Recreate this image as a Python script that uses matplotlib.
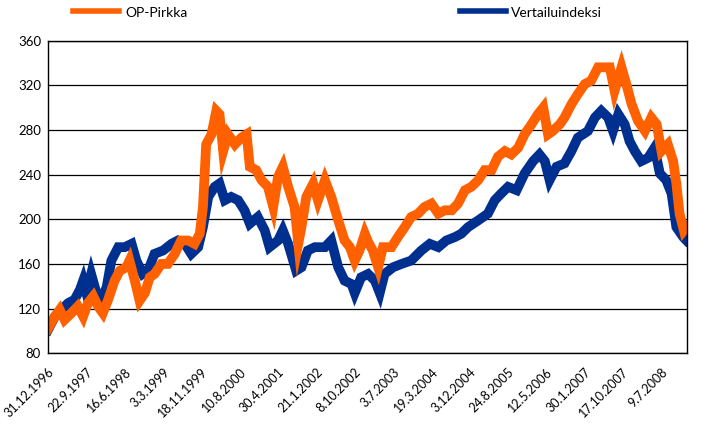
import matplotlib
matplotlib.use("Agg")
import matplotlib.pyplot as plt
import matplotlib.transforms as mtransforms
from matplotlib.lines import Line2D
import pandas as pd

# luetut arvot kuvasta (indeksi, 31.12.1996 = 100), aika desimaalivuosina
op_vuosi = [
    1997.00, 1997.13, 1997.22, 1997.31, 1997.44, 1997.56, 1997.66, 1997.75, 1997.85, 1997.94,
    1998.03, 1998.13, 1998.25, 1998.35, 1998.47, 1998.53, 1998.63, 1998.72, 1998.82, 1998.91,
    1999.00, 1999.13, 1999.25, 1999.38, 1999.50, 1999.63, 1999.75, 1999.85, 1999.91, 1999.97,
    2000.07, 2000.16, 2000.22, 2000.29, 2000.38, 2000.51, 2000.63, 2000.73, 2000.79, 2000.91,
    2001.01, 2001.13, 2001.23, 2001.32, 2001.41, 2001.51, 2001.63, 2001.70, 2001.76, 2001.85,
    2001.98, 2002.07, 2002.20, 2002.32, 2002.45, 2002.57, 2002.67, 2002.76, 2002.85, 2002.95,
    2003.01, 2003.10, 2003.20, 2003.29, 2003.45, 2003.57, 2003.70, 2003.82, 2003.95, 2004.07,
    2004.20, 2004.33, 2004.45, 2004.58, 2004.70, 2004.83, 2004.95, 2005.08, 2005.20, 2005.33,
    2005.45, 2005.58, 2005.70, 2005.83, 2005.95, 2006.08, 2006.20, 2006.30, 2006.39, 2006.48,
    2006.61, 2006.70, 2006.83, 2006.95, 2007.08, 2007.20, 2007.33, 2007.46, 2007.55, 2007.64,
    2007.77, 2007.86, 2007.96, 2008.08, 2008.21, 2008.33, 2008.43, 2008.52, 2008.64, 2008.74,
    2008.80, 2008.86, 2008.94, 2008.99,
]
op_pirkka = [
    102, 113, 119, 110, 116, 122, 113, 125, 131, 122,
    116, 128, 145, 154, 157, 163, 145, 127, 134, 148,
    151, 160, 160, 169, 181, 181, 178, 187, 211, 267,
    276, 297, 294, 261, 276, 267, 273, 276, 247, 244,
    235, 229, 211, 238, 247, 229, 211, 178, 193, 220,
    232, 217, 235, 220, 199, 181, 175, 163, 172, 187,
    180, 172, 157, 175, 175, 184, 193, 202, 205, 211,
    214, 205, 208, 208, 214, 226, 229, 235, 244, 244,
    256, 261, 258, 264, 276, 285, 294, 300, 276, 279,
    285, 291, 303, 312, 321, 324, 336, 336, 336, 315,
    336, 321, 303, 288, 279, 291, 285, 261, 267, 252,
    232, 205, 190, 193,
]
vi_vuosi = [
    1997.00, 1997.13, 1997.25, 1997.38, 1997.50, 1997.60, 1997.66, 1997.72, 1997.81, 1997.91,
    1998.00, 1998.10, 1998.19, 1998.32, 1998.44, 1998.57, 1998.66, 1998.78, 1998.88, 1999.00,
    1999.16, 1999.32, 1999.44, 1999.57, 1999.69, 1999.82, 1999.91, 2000.01, 2000.13, 2000.22,
    2000.32, 2000.44, 2000.57, 2000.69, 2000.79, 2000.94, 2001.07, 2001.16, 2001.32, 2001.41,
    2001.51, 2001.66, 2001.76, 2001.88, 2002.01, 2002.20, 2002.32, 2002.45, 2002.57, 2002.70,
    2002.76, 2002.88, 2003.01, 2003.14, 2003.23, 2003.32, 2003.48, 2003.64, 2003.82, 2004.01,
    2004.17, 2004.33, 2004.48, 2004.64, 2004.76, 2004.89, 2005.08, 2005.26, 2005.39, 2005.51,
    2005.64, 2005.80, 2005.95, 2006.11, 2006.23, 2006.33, 2006.42, 2006.55, 2006.70, 2006.83,
    2006.95, 2007.14, 2007.27, 2007.39, 2007.52, 2007.61, 2007.71, 2007.83, 2007.92, 2008.02,
    2008.14, 2008.27, 2008.39, 2008.49, 2008.61, 2008.71, 2008.80, 2008.93, 2008.99,
]
vertailuindeksi = [
    101, 113, 119, 125, 128, 137, 145, 134, 151, 134,
    128, 139, 163, 175, 175, 178, 163, 151, 154, 169,
    172, 178, 181, 178, 169, 175, 193, 220, 229, 232,
    217, 220, 217, 208, 196, 202, 190, 175, 181, 190,
    178, 154, 157, 172, 175, 175, 181, 157, 145, 142,
    134, 148, 151, 145, 134, 151, 157, 160, 163, 172,
    178, 175, 181, 184, 187, 193, 199, 205, 217, 223,
    229, 226, 241, 252, 258, 252, 235, 247, 250, 261,
    273, 279, 291, 297, 291, 279, 294, 285, 270, 261,
    252, 255, 264, 241, 235, 223, 193, 184, 181,
]
tick_labels = [
    "31.12.1996", "22.9.1997", "16.6.1998", "3.3.1999", "18.11.1999", "10.8.2000",
    "30.4.2001", "21.1.2002", "8.10.2002", "3.7.2003", "19.3.2004", "3.12.2004",
    "24.8.2005", "12.5.2006", "30.1.2007", "17.10.2007", "9.7.2008",
]
y_ticks = [80, 120, 160, 200, 240, 280, 320, 360]

ORANSSI = "#FF6000"
SININEN = "#00308F"

plt.rcParams["font.family"] = ["Lato", "DejaVu Sans"]


def vuosi_pvm(vuodet):
    # desimaalivuosi -> päivämäärä
    alku = pd.Timestamp("1996-12-31")
    return [alku + pd.Timedelta(days=(v - 1997.0) * 365.25) for v in vuodet]


tick_dates = pd.to_datetime(tick_labels, format="%d.%m.%Y")

fig = plt.figure(figsize=(7.13, 4.29), dpi=100)
ax = fig.add_axes([48 / 713, 1 - 353.3 / 429, 639 / 713, 312.8 / 429])

ax.plot(vuosi_pvm(vi_vuosi), vertailuindeksi, color=SININEN, lw=7, solid_joinstyle="miter")
ax.plot(vuosi_pvm(op_vuosi), op_pirkka, color=ORANSSI, lw=7, solid_joinstyle="miter")

ax.set_ylim(80, 360)
ax.set_yticks(y_ticks)
ax.set_xlim(pd.Timestamp("1996-12-31"), pd.Timestamp("2008-12-31"))
ax.set_xticks(tick_dates)
ax.set_xticklabels(tick_labels, rotation=45, ha="right", va="top")

ax.grid(axis="y", color="black", lw=0.9)
ax.set_axisbelow(True)
for s in ax.spines.values():
    s.set_color("black")
    s.set_linewidth(1.0)

ax.tick_params(axis="both", length=0, labelsize=9.5, colors="black")
ax.tick_params(axis="x", labelsize=9, pad=9)
ax.tick_params(axis="y", pad=5)

# päivämäärät hieman tikin oikealle puolelle kuten Excelissä
siirto = mtransforms.ScaledTranslation(8 / 100, 0, fig.dpi_scale_trans)
for lab in ax.get_xticklabels():
    lab.set_transform(lab.get_transform() + siirto)

# selite ylälaidassa
y_sel = 1 - 11 / 429
fig.add_artist(Line2D([73 / 713, 119 / 713], [y_sel, y_sel], color=ORANSSI, lw=4))
fig.text(125 / 713, 1 - 13 / 429, "OP-Pirkka", fontsize=10, va="center")
fig.add_artist(Line2D([460 / 713, 506 / 713], [y_sel, y_sel], color=SININEN, lw=4))
fig.text(511 / 713, 1 - 13 / 429, "Vertailuindeksi", fontsize=10, va="center")

fig.savefig("out.png", dpi=100)
